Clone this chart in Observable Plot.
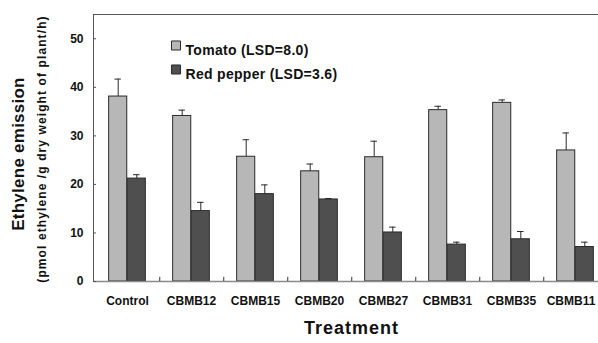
<!DOCTYPE html>
<html>
<head>
<meta charset="utf-8">
<script src="https://cdn.jsdelivr.net/npm/d3@7"></script>
<script src="https://cdn.jsdelivr.net/npm/@observablehq/plot@0.6"></script>
<style>
  html, body { margin: 0; padding: 0; background: #fff; overflow: hidden; width: 598px; height: 343px; }
  #chart { position: relative; width: 598px; height: 343px; overflow: hidden; }
</style>
</head>
<body>
<div id="chart"></div>
<script>
const categories = ["Control", "CBMB12", "CBMB15", "CBMB20", "CBMB27", "CBMB31", "CBMB35", "CBMB11"];
const tomato     = [38.1, 34.1, 25.7, 22.7, 25.6, 35.3, 36.8, 27.0];
const tomatoErr  = [3.6, 1.2, 3.5, 1.5, 3.3, 0.8, 0.6, 3.6];
const pepper     = [21.2, 14.5, 18.0, 16.9, 10.1, 7.6, 8.7, 7.1];
const pepperErr  = [0.8, 1.8, 1.9, 0.2, 1.1, 0.5, 1.6, 1.0];
const yTicks = [0, 10, 20, 30, 40, 50];
const seriesNames = ["Tomato", "Red pepper"];
const lsdValues = ["8.0", "3.6"];
const yTitle = "Ethylene emission";
const ySubtitle = "(pmol ethylene /g dry weight of plant/h)";
const xTitle = "Treatment";

const tomatoRows = categories.map((c, i) => ({category: c, value: tomato[i], err: tomatoErr[i]}));
const pepperRows = categories.map((c, i) => ({category: c, value: pepper[i], err: pepperErr[i]}));
const legendLabels = seriesNames.map((s, i) => `${s} (LSD=${lsdValues[i]})`);

const FONT = "'Liberation Sans', Arial, sans-serif";
const W = 598, H = 343;
const mL = 93, mR = -11, mT = 14, mB = 62;
const band = (W - mR - mL) / categories.length;
const half = band / 2;
const barW = 18.6;
const outer = half - barW;
const capHalf = 3.5;

const tomatoFill = "#b7b7b7", pepperFill = "#4f4f4f", edge = "#2a2a2a";

const chart = Plot.plot({
  width: W, height: H,
  marginLeft: mL, marginRight: mR, marginTop: mT, marginBottom: mB,
  style: {fontFamily: FONT, background: "#fff", overflow: "hidden"},
  x: {type: "band", domain: categories, padding: 0, axis: null},
  y: {domain: [0, 55], axis: null},
  marks: [
    Plot.frame({stroke: "#555", strokeWidth: 1}),
    // tomato bars
    Plot.barY(tomatoRows, {x: "category", y: "value", fill: tomatoFill, stroke: edge, strokeWidth: 1,
      insetLeft: outer, insetRight: half}),
    Plot.ruleX(tomatoRows, {x: "category", y1: "value", y2: d => d.value + d.err, dx: -barW / 2, stroke: edge}),
    Plot.tickY(tomatoRows, {x: "category", y: d => d.value + d.err, stroke: edge,
      insetLeft: half - barW / 2 - capHalf, insetRight: half + barW / 2 - capHalf}),
    // pepper bars
    Plot.barY(pepperRows, {x: "category", y: "value", fill: pepperFill, stroke: edge, strokeWidth: 1,
      insetLeft: half, insetRight: outer}),
    Plot.ruleX(pepperRows, {x: "category", y1: "value", y2: d => d.value + d.err, dx: barW / 2, stroke: edge}),
    Plot.tickY(pepperRows, {x: "category", y: d => d.value + d.err, stroke: edge,
      insetLeft: half + barW / 2 - capHalf, insetRight: half - barW / 2 - capHalf}),
    // axes lines
    Plot.ruleY([0], {stroke: "#8a8a8a", strokeWidth: 1.6}),
    Plot.ruleX(categories, {x: d => d, y1: 0, y2: 0.85, dx: half, stroke: "#333"}),
    Plot.axisY({ticks: yTicks, tickSize: -3, tickPadding: 13, fontSize: 12, fontWeight: "bold",
      fill: "#111", stroke: "#555", label: null}),
    Plot.axisX({ticks: categories.slice(0, -1), tickSize: 0, tickPadding: 15, fontSize: 12, fontWeight: "bold", fill: "#111", label: null}),
    Plot.axisX({ticks: categories.slice(-1), tickSize: 0, tickPadding: 15, dx: -4.5, fontSize: 12, fontWeight: "bold", fill: "#111", label: null}),
    // titles
    Plot.text([yTitle], {frameAnchor: "left", rotate: -90, dx: -74.5, dy: 6, fontSize: 17,
      fontWeight: "bold", fill: "#111", textAnchor: "middle"}),
    Plot.text([ySubtitle], {frameAnchor: "left", rotate: -90, dx: -51, dy: 1, fontSize: 12,
      fontWeight: "bold", fill: "#111", textAnchor: "middle"}),
    Plot.text([xTitle], {frameAnchor: "bottom", dy: 52.5, fontSize: 18, fontWeight: "bold", fill: "#111"}),
    // legend
    Plot.dot([legendLabels[0]], {frameAnchor: "top-left", dx: 82.5, dy: 31, symbol: "square", r: 5.1,
      fill: tomatoFill, stroke: edge, strokeWidth: 1}),
    Plot.text([legendLabels[0]], {frameAnchor: "top-left", dx: 92, dy: 31, textAnchor: "start",
      fontSize: 14, fontWeight: "bold", fill: "#111"}),
    Plot.dot([legendLabels[1]], {frameAnchor: "top-left", dx: 82.5, dy: 55, symbol: "square", r: 5.1,
      fill: pepperFill, stroke: edge, strokeWidth: 1}),
    Plot.text([legendLabels[1]], {frameAnchor: "top-left", dx: 92, dy: 55, textAnchor: "start",
      fontSize: 14, fontWeight: "bold", fill: "#111"})
  ]
});
// letter spacing tweaks to match the bitmap-rendered original
const spacing = new Map([[ySubtitle, "1.1px"], [xTitle, "1px"], [yTitle, "0.25px"],
  [legendLabels[0], "0.3px"], [legendLabels[1], "0.3px"]]);
d3.select(chart).selectAll("text").each(function() {
  const s = spacing.get(this.textContent);
  if (s) this.style.letterSpacing = s;
});
document.getElementById("chart").appendChild(chart);
</script>
</body>
</html>
